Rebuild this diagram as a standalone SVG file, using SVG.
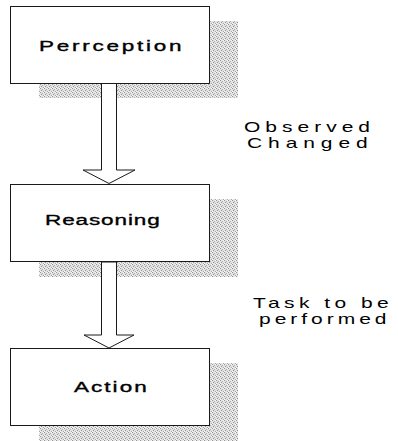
<svg xmlns="http://www.w3.org/2000/svg" width="398" height="441" viewBox="0 0 398 441">
  <defs>
    <!-- speckled fill used for the drop shadows -->
    <pattern id="stipple" width="4" height="4" patternUnits="userSpaceOnUse">
      <rect width="4" height="4" fill="#e2e2e2"/>
      <rect x="0" y="0" width="1" height="1" fill="#959595"/>
      <rect x="2" y="1" width="1" height="1" fill="#b0b0b0"/>
      <rect x="1" y="2" width="1" height="1" fill="#959595"/>
      <rect x="3" y="3" width="1" height="1" fill="#a8a8a8"/>
      <rect x="3" y="0" width="1" height="1" fill="#f6f6f6"/>
      <rect x="0" y="3" width="1" height="1" fill="#f6f6f6"/>
    </pattern>
  </defs>
  <style>
    .shadow { fill: url(#stipple); }
    .box { fill: #ffffff; stroke: #1a1a1a; stroke-width: 1; }
    .arrow { fill: #ffffff; stroke: #1a1a1a; stroke-width: 1; stroke-linejoin: miter; }
    .title { font-family: "Liberation Sans", Arial, sans-serif; font-size: 15px; fill: #000; stroke: #000; stroke-width: 0.35; }
    .note { font-family: "Liberation Sans", Arial, sans-serif; font-size: 14px; fill: #000; }
  </style>
  <rect width="398" height="441" fill="#ffffff"/>

  <!-- shadows sit behind everything -->
  <g id="shadows">
    <rect class="shadow" x="39" y="21" width="199" height="77"/>
    <rect class="shadow" x="39" y="199" width="199" height="78"/>
    <rect class="shadow" x="39" y="363" width="199" height="78"/>
  </g>

  <g id="connectors">
    <polygon class="arrow" points="101.5,83.5 116.5,83.5 116.5,170 135,170 109,183.5 83,170 101.5,170"/>
    <polygon class="arrow" points="101.5,262 116.5,262 116.5,335 134,335 109,348 84,335 101.5,335"/>
    <g id="label-observed">
      <text class="note" transform="translate(244 132) scale(1.5 1)" textLength="84" lengthAdjust="spacing">Observed</text>
      <text class="note" transform="translate(247 148) scale(1.5 1)" textLength="80.5" lengthAdjust="spacing">Changed</text>
    </g>
    <g id="label-task">
      <text class="note" transform="translate(253 308) scale(1.5 1)" textLength="90.5" lengthAdjust="spacing">Task to be</text>
      <text class="note" transform="translate(259 324) scale(1.5 1)" textLength="85" lengthAdjust="spacing">performed</text>
    </g>
  </g>

  <g id="perception">
    <rect class="box" x="10.5" y="6.5" width="199" height="77"/>
    <text class="title" transform="translate(39 51) scale(1.5 1)" textLength="95" lengthAdjust="spacing">Perrception</text>
  </g>

  <g id="reasoning">
    <rect class="box" x="10.5" y="184.5" width="199" height="77"/>
    <text class="title" transform="translate(45 225) scale(1.5 1)" textLength="76.5" lengthAdjust="spacing">Reasoning</text>
  </g>

  <g id="action">
    <rect class="box" x="10.5" y="348.5" width="199" height="77"/>
    <text class="title" transform="translate(74 392) scale(1.5 1)" textLength="48.5" lengthAdjust="spacing">Action</text>
  </g>
</svg>
